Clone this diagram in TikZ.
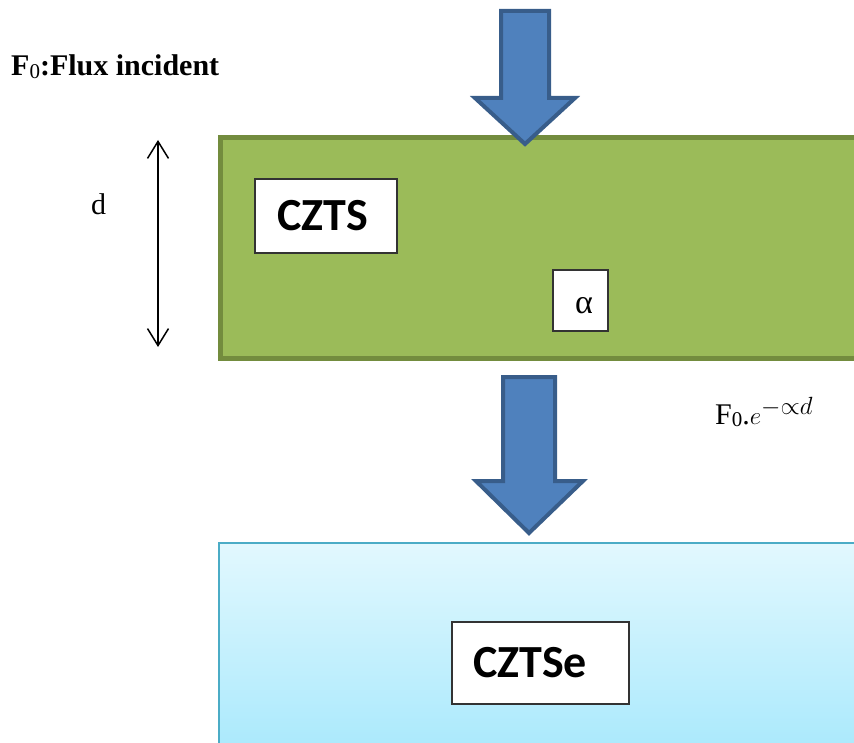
\documentclass[tikz,border=0pt]{standalone}
\usepackage{fontspec}
\setmainfont{Liberation Serif}
\newfontfamily\labelfont{Carlito}
\usetikzlibrary{arrows.meta}
\definecolor{layergreen}{HTML}{9BBB59}
\definecolor{layergreenedge}{HTML}{738C3E}
\definecolor{layerbluetop}{HTML}{E2F8FE}
\definecolor{layerbluebot}{HTML}{A2E7FC}
\definecolor{layerblueedge}{HTML}{4BACC6}
\definecolor{fluxfill}{HTML}{4F81BD}
\definecolor{fluxedge}{HTML}{385D8A}
\tikzset{
  labelbox/.style={draw=black!80, line width=1.2pt, fill=white, inner sep=0pt},
  matname/.style={font=\labelfont\bfseries\fontsize{46}{52}\selectfont},
  fluxarrow/.style={fill=fluxfill, draw=fluxedge, line width=4pt, line join=miter},
  serifbig/.style={inner sep=0pt, font=\fontsize{30}{36}\selectfont},
}
\begin{document}
\begin{tikzpicture}[x=1pt,y=-1pt]
\useasboundingbox (0,0) rectangle (854,743);
\clip (0,0) rectangle (854,743);

% CZTS absorber layer
\draw[fill=layergreen, draw=layergreenedge, line width=5pt] (220,138) rectangle (880,358);

% CZTSe layer with vertical gradient
\shade[top color=layerbluetop, bottom color=layerbluebot] (219,543) rectangle (880,780);
\draw[draw=layerblueedge, line width=2pt] (880,543) -- (219,543) -- (219,780);

% incident flux arrow
\draw[fluxarrow] (501,11) -- (549,11) -- (549,98) -- (575,98) -- (525,144)
  -- (475,98) -- (501,98) -- cycle;

% transmitted flux arrow
\draw[fluxarrow] (503,377) -- (555,377) -- (555,481) -- (583,481) -- (529,533)
  -- (476,481) -- (503,481) -- cycle;

% thickness marker
\coordinate (dtop) at (158,140);
\coordinate (dbot) at (158,347);
\draw[line width=1.5pt, {Straight Barb[length=17pt,width=21pt,line width=1.5pt]}-{Straight Barb[length=17pt,width=21pt,line width=1.5pt]}] (dtop) -- (dbot);
\node[serifbig, anchor=base west] (dlabel) at (91,215) {d};

% labels
\node[anchor=base west, inner sep=0pt, font=\bfseries\fontsize{30}{36}\selectfont] (incident) at (11,76)
  {F\raisebox{-0.08em}{\mdseries\fontsize{21}{24}\selectfont 0}:Flux incident};

\node[serifbig, anchor=base west] (transmitted) at (715,424)
  {F\raisebox{-0.08em}{\fontsize{21}{24}\selectfont 0}.{\fontsize{35}{40}\selectfont$e^{-\propto d}$}};

% material boxes (text set slightly left of centre)
\node[labelbox, minimum width=142pt, minimum height=74pt, matname] (czts) at (326,216)
  {CZTS\kern7pt};

\node[labelbox, minimum width=55pt, minimum height=61pt] (alphabox) at (580.5,300.5) {};
\node[inner sep=0pt, font=\fontsize{34}{40}\selectfont] (alpha) at (584,306) {α};

\node[labelbox, minimum width=177pt, minimum height=82pt, matname] (cztse) at (540.5,663)
  {CZTSe\kern21pt};
\end{tikzpicture}
\end{document}
